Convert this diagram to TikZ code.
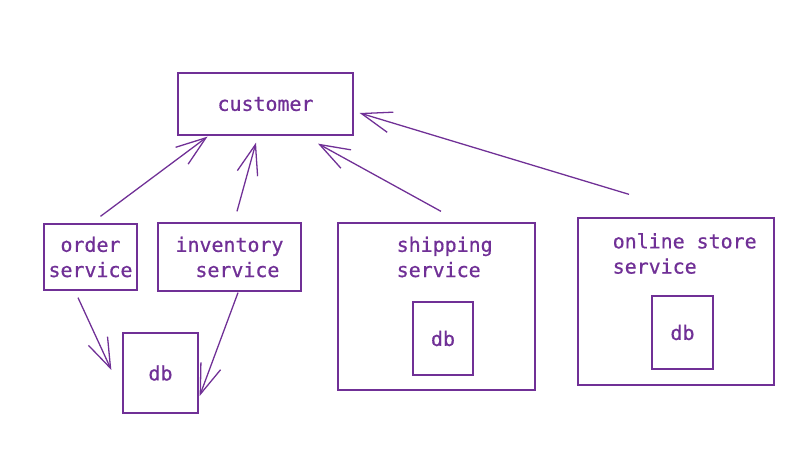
\documentclass[tikz,border=0pt]{standalone}
\usepackage{fontspec}
\setmonofont[FakeBold=0.7]{DejaVu Sans Mono}
\usetikzlibrary{arrows.meta}
\definecolor{sketch}{RGB}{112,48,150}

\begin{document}
\begin{tikzpicture}
    [x=0.03cm, y=0.03cm,
    font=\ttfamily\fontsize{17}{21.5}\selectfont,
    every node/.style={text=sketch, align=center},
    box/.style 2 args={draw=sketch, line width=1.1pt, rectangle,
    minimum width=#1*0.03cm, minimum height=#2*0.03cm, inner sep=0pt},
    boxtext/.style={inner sep=0pt, align=left, anchor=west},
    link/.style={draw=sketch, line width=1.1pt,
    -{Straight Barb[length=9mm, width=6.3mm]}}]
    \useasboundingbox (0,0) rectangle (800,474);
    % top
    \node[box={175}{62}] (customer) at (265.5,370) {customer};
    % services sharing one db
    \node[box={93}{66}] (order) at (90.5,217) {order\\service};
    \node[box={143}{68}, align=left] (inventory) at (229.5,217)
        {inventory\\\hspace*{1em}service};
    \node[box={75}{80}] (db) at (160.5,101) {db};
    % services with own db
    \node[box={197}{167}] (shipping) at (436.5,167.5) {};
    \node[boxtext] (shippingText) at (396.5,217) {shipping\\service};
    \node[box={60}{73}] (shippingDb) at (443,135.5) {db};
    \node[box={196}{167}] (online) at (676,172.5) {};
    \node[boxtext] (onlineText) at (612.5,220.5) {online store\\service};
    \node[box={61}{73}] (onlineDb) at (682.5,141.5) {db};
    % arrows
    \draw[link] ([shift={(10,7)}]order.north) -- ([shift={(-58,-1)}]customer.south);
    \draw[link] ([shift={(7.5,11)}]inventory.north) -- ([shift={(-9.5,-7)}]customer.south);
    \draw[link] ([shift={(4.5,11)}]shipping.north) -- ([shift={(52.5,-8)}]customer.south);
    \draw[link] ([shift={(-47,23)}]online.north) -- ([shift={(6,-9)}]customer.east);
    \draw[link] ([shift={(-12.5,-7)}]order.south) -- ([shift={(-11,3)}]db.west);
    \draw[link] ([shift={(8.5,-1)}]inventory.south) -- ([shift={(1,-23)}]db.east);
\end{tikzpicture}
\end{document}
